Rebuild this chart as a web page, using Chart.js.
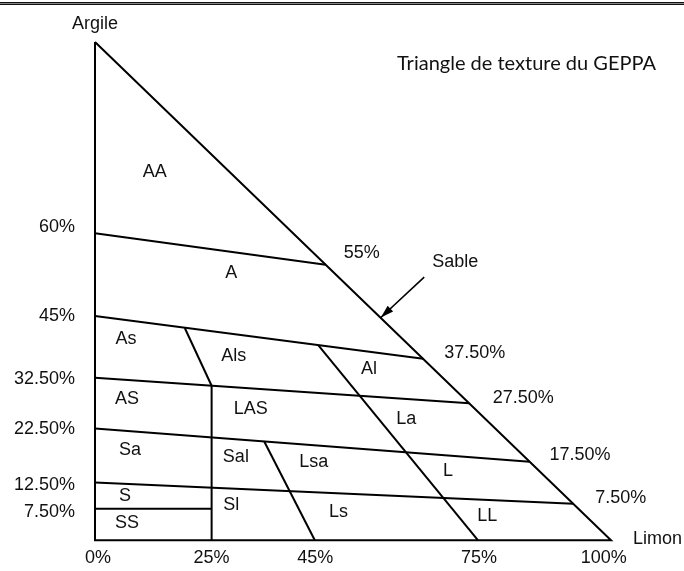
<!DOCTYPE html>
<html>
<head>
<meta charset="utf-8">
<script src="https://cdn.jsdelivr.net/npm/chart.js@4"></script>
<style>
  html, body { margin: 0; padding: 0; background: #fff; }
  #wrap { position: relative; width: 684px; height: 571px; overflow: hidden; }
  #topline { position: absolute; left: 0; top: 2px; width: 684px; height: 1px;
    background: #888; border-top: 1px solid #111; border-bottom: 1px solid #111; }
  #titre { position: absolute; left: 397px; top: 50px; font: 20px Lato, "Open Sans", sans-serif;
    color: #111; white-space: nowrap; line-height: 24px; }
</style>
</head>
<body>
<div id="wrap">
  <canvas id="geppa" width="684" height="571"></canvas>
  <div id="topline"></div>
  <div id="titre">Triangle de texture du GEPPA</div>
</div>
<script>
// axes (limon en x, argile en y), positions
const limonTickVals = [0.6, 22.6, 42.7, 74.4, 98.6];
const limonTickLabels = ['0%', '25%', '45%', '75%', '100%'];
const argileTickVals = [62.8, 45.0, 32.3, 22.4, 11.1, 5.7];
const argileTickLabels = ['60%', '45%', '32.50%', '22.50%', '12.50%', '7.50%'];

// contour du triangle
const contour = [[0, 100], [0, 0], [100, 0], [0, 100]];

// limites entre classes (segments)
const limites = [
  [[0, 61.6], [44.7, 55.3]],
  [[0, 45.0], [63.6, 36.4]],
  [[0, 32.6], [72.5, 27.5]],
  [[0, 22.4], [84.25, 15.75]],
  [[0, 11.6], [92.7, 7.3]],
  [[0, 6.3], [22.6, 6.3]],
  [[22.6, 0], [22.6, 31.0]],
  [[17.4, 42.6], [22.6, 31.0]],
  [[32.8, 19.8], [42.6, 0]],
  [[43.3, 39.1], [74.2, 0]]
];

// noms des classes
const classes = ['AA', 'A', 'As', 'Als', 'Al', 'AS', 'LAS', 'La', 'Sa', 'Sal', 'Lsa', 'L', 'S', 'Sl', 'Ls', 'SS', 'LL'];
const classPos = [
  [11.6, 74.0], [26.4, 53.6], [6.0, 40.3], [26.9, 36.9], [53.1, 34.3],
  [6.2, 28.4], [30.2, 26.4], [60.3, 24.4], [6.8, 18.1], [27.3, 16.7],
  [42.4, 15.7], [68.4, 13.9], [5.8, 8.9], [26.4, 7.1], [47.2, 5.6],
  [6.2, 3.4], [76.0, 4.8]
];

// valeurs le long de l'hypoténuse (sable)
const bordLabels = ['55%', '37.50%', '27.50%', '17.50%', '7.50%'];
const bordPos = [[51.7, 57.7], [73.6, 37.6], [83.0, 28.6], [94.0, 17.1], [101.9, 8.5]];

const sableLabel = 'Sable';
const sablePos = [69.8, 55.8];
const sableFleche = [[63.8, 52.8], [55.4, 44.7]];

const FONT = '18px "Liberation Sans", Arial, sans-serif';
Chart.defaults.color = '#111';
Chart.defaults.font.family = '"Liberation Sans", Arial, sans-serif';
Chart.defaults.font.size = 18;

function toPts(arr) {
  return arr.map(p => ({ x: p[0], y: p[1] }));
}

function trait(arr, w) {
  return {
    data: toPts(arr), showLine: true, borderColor: '#000', backgroundColor: '#000',
    borderWidth: w || 2, pointRadius: 0, clip: false, tension: 0
  };
}

const datasets = [trait(contour)];
limites.forEach(seg => datasets.push(trait(seg)));
datasets.push(trait(sableFleche, 1.6));

const textes = {
  id: 'textes',
  afterDatasetsDraw(chart) {
    const ctx = chart.ctx;
    const xs = chart.scales.x, ys = chart.scales.y;
    ctx.save();
    ctx.font = FONT;
    ctx.fillStyle = '#111';
    ctx.textAlign = 'center';
    ctx.textBaseline = 'middle';
    classes.forEach((c, i) => {
      ctx.fillText(c, xs.getPixelForValue(classPos[i][0]), ys.getPixelForValue(classPos[i][1]));
    });
    bordLabels.forEach((t, i) => {
      ctx.fillText(t, xs.getPixelForValue(bordPos[i][0]), ys.getPixelForValue(bordPos[i][1]));
    });
    ctx.fillText(sableLabel, xs.getPixelForValue(sablePos[0]), ys.getPixelForValue(sablePos[1]));

    // pointe de flèche
    const x0 = xs.getPixelForValue(sableFleche[0][0]), y0 = ys.getPixelForValue(sableFleche[0][1]);
    const x1 = xs.getPixelForValue(sableFleche[1][0]), y1 = ys.getPixelForValue(sableFleche[1][1]);
    const a = Math.atan2(y1 - y0, x1 - x0);
    ctx.fillStyle = '#000';
    ctx.beginPath();
    ctx.moveTo(x1, y1);
    ctx.lineTo(x1 - 13 * Math.cos(a) + 4 * Math.sin(a), y1 - 13 * Math.sin(a) - 4 * Math.cos(a));
    ctx.lineTo(x1 - 13 * Math.cos(a) - 4 * Math.sin(a), y1 - 13 * Math.sin(a) + 4 * Math.cos(a));
    ctx.closePath();
    ctx.fill();

    // titres des axes
    ctx.fillStyle = '#111';
    ctx.fillText('Argile', xs.left, 24);
    ctx.textAlign = 'left';
    ctx.fillText('Limon', xs.right + 22, ys.bottom - 1);
    ctx.restore();
  }
};

new Chart(document.getElementById('geppa'), {
  type: 'scatter',
  data: { datasets },
  options: {
    responsive: false,
    animation: false,
    layout: { padding: { top: 42, right: 73, left: 0, bottom: 0 } },
    plugins: { legend: { display: false }, tooltip: { enabled: false }, colors: { enabled: false } },
    scales: {
      x: {
        type: 'linear', min: 0, max: 100,
        grid: { display: false, drawTicks: false }, border: { display: false },
        afterBuildTicks: s => { s.ticks = limonTickVals.map(v => ({ value: v })); },
        afterFit: s => { s.height = 25; },
        ticks: { autoSkip: false, maxRotation: 0, padding: 7, callback: (v, i) => limonTickLabels[i] }
      },
      y: {
        type: 'linear', min: 0, max: 100,
        grid: { display: false, drawTicks: false }, border: { display: false },
        afterBuildTicks: s => { s.ticks = argileTickVals.map(v => ({ value: v })); },
        afterFit: s => { s.width = 95; },
        ticks: { autoSkip: false, padding: 20, callback: (v, i) => argileTickLabels[i] }
      }
    }
  },
  plugins: [textes]
});
</script>
</body>
</html>
